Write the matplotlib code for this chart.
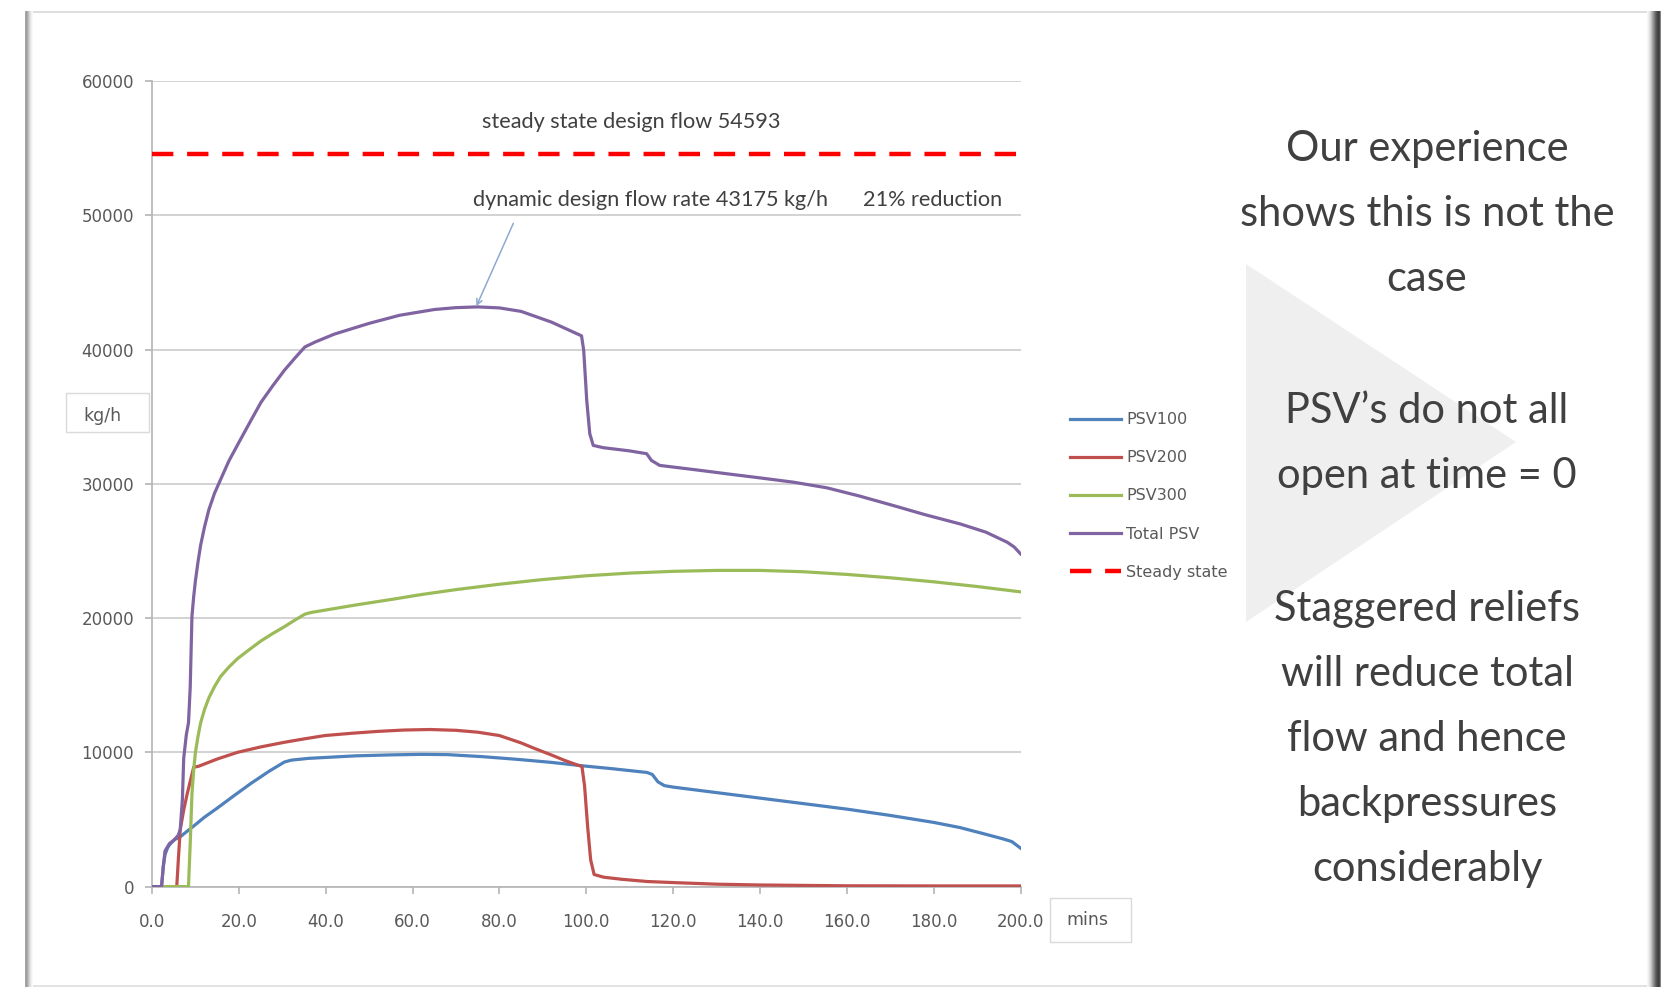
import numpy as np
import matplotlib
matplotlib.use("Agg")
import matplotlib.pyplot as plt
from matplotlib.patches import Rectangle, Polygon

# relief flow per valve (kg/h) against time (mins)
t_psv100 = [0, 2.2, 2.6, 3.0, 3.6, 4.2, 5.2, 6.5, 8.0, 9.6, 12, 15, 19, 22.8, 27, 30.5,
            32.1, 36, 40, 47, 55, 62, 68, 76, 84, 92, 99, 106, 114, 115.2, 116.5, 118,
            120, 130, 140, 150, 160, 170, 180, 186, 191, 196, 198, 200]
psv100 = [0, 0, 1500, 2390, 2900, 3180, 3500, 3710, 4100, 4510, 5150, 5840, 6800, 7690,
          8600, 9280, 9420, 9550, 9620, 9740, 9810, 9850, 9830, 9680, 9480, 9250, 9000,
          8780, 8500, 8350, 7800, 7520, 7410, 7000, 6590, 6180, 5770, 5300, 4780, 4400,
          3980, 3550, 3350, 2860]

t_psv200 = [0, 5.7, 6.1, 6.5, 7.3, 8.1, 9.0, 9.6, 10.8, 15, 19.7, 25, 30.5, 35, 39.8,
            46, 52, 58, 64, 70, 75, 80, 85, 88, 92, 95, 98, 99, 99.6, 100.3, 101, 101.8,
            104, 108, 114, 120, 130, 140, 160, 180, 200]
psv200 = [0, 0, 2200, 4240, 5700, 6900, 8100, 8890, 8970, 9500, 10000, 10400, 10750,
          11000, 11250, 11420, 11560, 11660, 11700, 11640, 11500, 11250, 10700, 10300,
          9800, 9400, 9050, 8950, 7500, 4500, 2000, 900, 700, 550, 380, 300, 180, 120,
          60, 50, 50]

t_psv300 = [0, 8.4, 8.8, 9.2, 9.6, 10.0, 10.6, 11.2, 12.1, 13.1, 14.4, 15.8, 17.7,
            19.7, 22.4, 25.1, 27.8, 30.5, 32.9, 35.2, 36.7, 40, 47, 55, 62, 70, 80,
            90, 100, 110, 120, 130, 140, 150, 160, 170, 180, 190, 200]
psv300 = [0, 0, 3200, 6900, 8700, 10000, 11200, 12200, 13200, 14060, 14900, 15650,
          16350, 16980, 17650, 18300, 18850, 19360, 19850, 20290, 20420, 20600, 20980,
          21380, 21750, 22120, 22520, 22870, 23150, 23350, 23480, 23550, 23550, 23450,
          23250, 23000, 22700, 22350, 21950]

t_total = [0, 2.2, 2.6, 3.0, 4.0, 5.0, 6.0, 6.5, 7.0, 7.3, 7.9, 8.4, 8.6, 8.8, 9.0,
           9.2, 9.6, 10.0, 10.6, 11.2, 12.1, 13.1, 14.4, 15.8, 17.7, 19.7, 22.4, 25.1,
           27.8, 30.5, 33, 35.2, 37.5, 42, 50, 57, 65, 70, 75, 80, 85, 92, 98.9, 99.4,
           100.1, 100.8, 101.6, 103.9, 110, 113.9, 115.0, 116.9, 125, 132.3, 140, 147.7,
           155.4, 163, 170.7, 178, 186.1, 192, 196.9, 198.5, 200]
total_psv = [0, 0, 1500, 2650, 3200, 3450, 3800, 4240, 6500, 9550, 11300, 12200, 13500,
             14850, 17500, 20130, 21600, 22780, 24200, 25430, 26800, 28080, 29300, 30320,
             31700, 32900, 34500, 36070, 37300, 38460, 39400, 40190, 40550, 41150, 41950,
             42550, 42980, 43120, 43175, 43100, 42840, 42040, 41020, 39950, 36220, 33730,
             32860, 32690, 32450, 32240, 31740, 31370, 31050, 30750, 30440, 30120, 29700,
             29080, 28380, 27700, 27010, 26400, 25650, 25300, 24780]

t_steady = [0, 200]
steady = [54593, 54593]

x_ticks = [0, 20, 40, 60, 80, 100, 120, 140, 160, 180, 200]
y_ticks = [0, 10000, 20000, 30000, 40000, 50000, 60000]

side_lines = ["Our experience", "shows this is not the", "case",
              "PSV\u2019s do not all", "open at time = 0",
              "Staggered reliefs", "will reduce total", "flow and hence",
              "backpressures", "considerably"]
side_base = [161, 226, 291, 423, 488, 621, 686, 751, 816, 881]

W, H = 1667, 989


def fx(x):
    return x / W


def fy(y):
    return 1 - y / H


fig = plt.figure(figsize=(W / 100, H / 100), dpi=100)
fig.patch.set_facecolor("white")


def band(x0, x1, y0, y1, color, z=0):
    fig.add_artist(Rectangle((fx(x0), fy(y1)), (x1 - x0) / W, (y1 - y0) / H,
                             transform=fig.transFigure, facecolor=color,
                             edgecolor="none", zorder=z))


# slide border with shadow
band(26, 1660, 11, 13, "#dedede")
band(26, 1660, 985, 987, "#e2e2e2")
for i, g in enumerate([165, 158, 172, 192, 212, 228, 240, 249]):
    band(25 + i, 26 + i, 11, 987, "#%02x%02x%02x" % (g, g, g))
for i, g in enumerate([246, 238, 226, 210, 190, 168, 146, 124, 102, 84, 70, 62, 74, 130]):
    band(1647 + i, 1648 + i, 11, 987, "#%02x%02x%02x" % (g, g, g))

# light arrow shape behind the text
fig.add_artist(Polygon([(fx(1246), fy(264)), (fx(1246), fy(622)), (fx(1516), fy(442))],
                       closed=True, transform=fig.transFigure, facecolor="#efefef",
                       edgecolor="none", zorder=1))

ax = fig.add_axes([fx(152), fy(886.6), (1020.6 - 152) / W, (886.6 - 81) / H])
ax.set_facecolor("none")

ax.plot(t_psv100, psv100, color="#4F81BD", lw=2.3, label="PSV100", zorder=3)
ax.plot(t_psv200, psv200, color="#C0504D", lw=2.3, label="PSV200", zorder=3)
ax.plot(t_psv300, psv300, color="#9BBB59", lw=2.3, label="PSV300", zorder=3)
ax.plot(t_total, total_psv, color="#8064A2", lw=2.3, label="Total PSV", zorder=3)
ax.plot(t_steady, steady, color="#FF0000", lw=3.2, dashes=(4.8, 3.1), label="Steady state",
        zorder=3)

ax.set_xlim(0, 200)
ax.set_ylim(0, 60000)
ax.set_xticks(x_ticks)
ax.set_xticklabels(["%.1f" % v for v in x_ticks])
ax.set_yticks(y_ticks)
ax.set_yticklabels([str(v) for v in y_ticks])

for s in ["top", "right"]:
    ax.spines[s].set_visible(False)
ax.spines["left"].set_color("#b4b4b4")
ax.spines["left"].set_linewidth(1.2)
ax.spines["bottom"].set_color("#b4b4b4")
ax.spines["bottom"].set_linewidth(1.2)
ax.yaxis.grid(True, color="#cfcfcf", lw=1.3)
ax.set_axisbelow(True)
ax.tick_params(axis="y", length=5, width=1.2, color="#b4b4b4", pad=8,
               labelsize=12, labelcolor="#595959")
ax.tick_params(axis="x", length=5, width=1.2, color="#b4b4b4", pad=14,
               labelsize=12, labelcolor="#595959")

ax.text(110.4, 56950, "steady state design flow 54593", ha="center", va="center",
        fontsize=15.6, family="Lato", color="#404040")
ax.text(73.9, 51150, "dynamic design flow rate 43175 kg/h", ha="left", va="center",
        fontsize=15.6, family="Lato", color="#404040")
ax.text(163.7, 51150, "21% reduction", ha="left", va="center",
        fontsize=15.6, family="Lato", color="#404040")
ax.annotate("", xy=(74.7, 43230), xytext=(83.2, 49400),
            arrowprops=dict(arrowstyle="->", color="#8eaad0", lw=1.1,
                            shrinkA=0, shrinkB=0))

# axis unit boxes
fig.add_artist(Rectangle((fx(66), fy(432)), 83 / W, 39 / H, transform=fig.transFigure,
                         facecolor="white", edgecolor="#dadada", lw=1, zorder=2))
fig.text(fx(102), fy(416), "kg/h", ha="center", va="center", fontsize=12.5,
         color="#595959", zorder=3)
fig.add_artist(Rectangle((fx(1050), fy(942)), 81 / W, 44 / H, transform=fig.transFigure,
                         facecolor="white", edgecolor="#dadada", lw=1, zorder=2))
fig.text(fx(1087), fy(920), "mins", ha="center", va="center", fontsize=12.5,
         color="#595959", zorder=3)

leg = ax.legend(loc="center left", bbox_to_anchor=(fx(1070), fy(496)),
                bbox_transform=fig.transFigure, frameon=False, fontsize=11.5,
                handlelength=3.2, handletextpad=0.33, labelspacing=1.45,
                borderpad=0, borderaxespad=0)
for txt in leg.get_texts():
    txt.set_color("#595959")

for line, base in zip(side_lines, side_base):
    fig.text(fx(1427), fy(base), line, ha="center", va="baseline", fontsize=30,
             family="Lato", color="#404040", zorder=3)

fig.savefig("out.png", dpi=100)
